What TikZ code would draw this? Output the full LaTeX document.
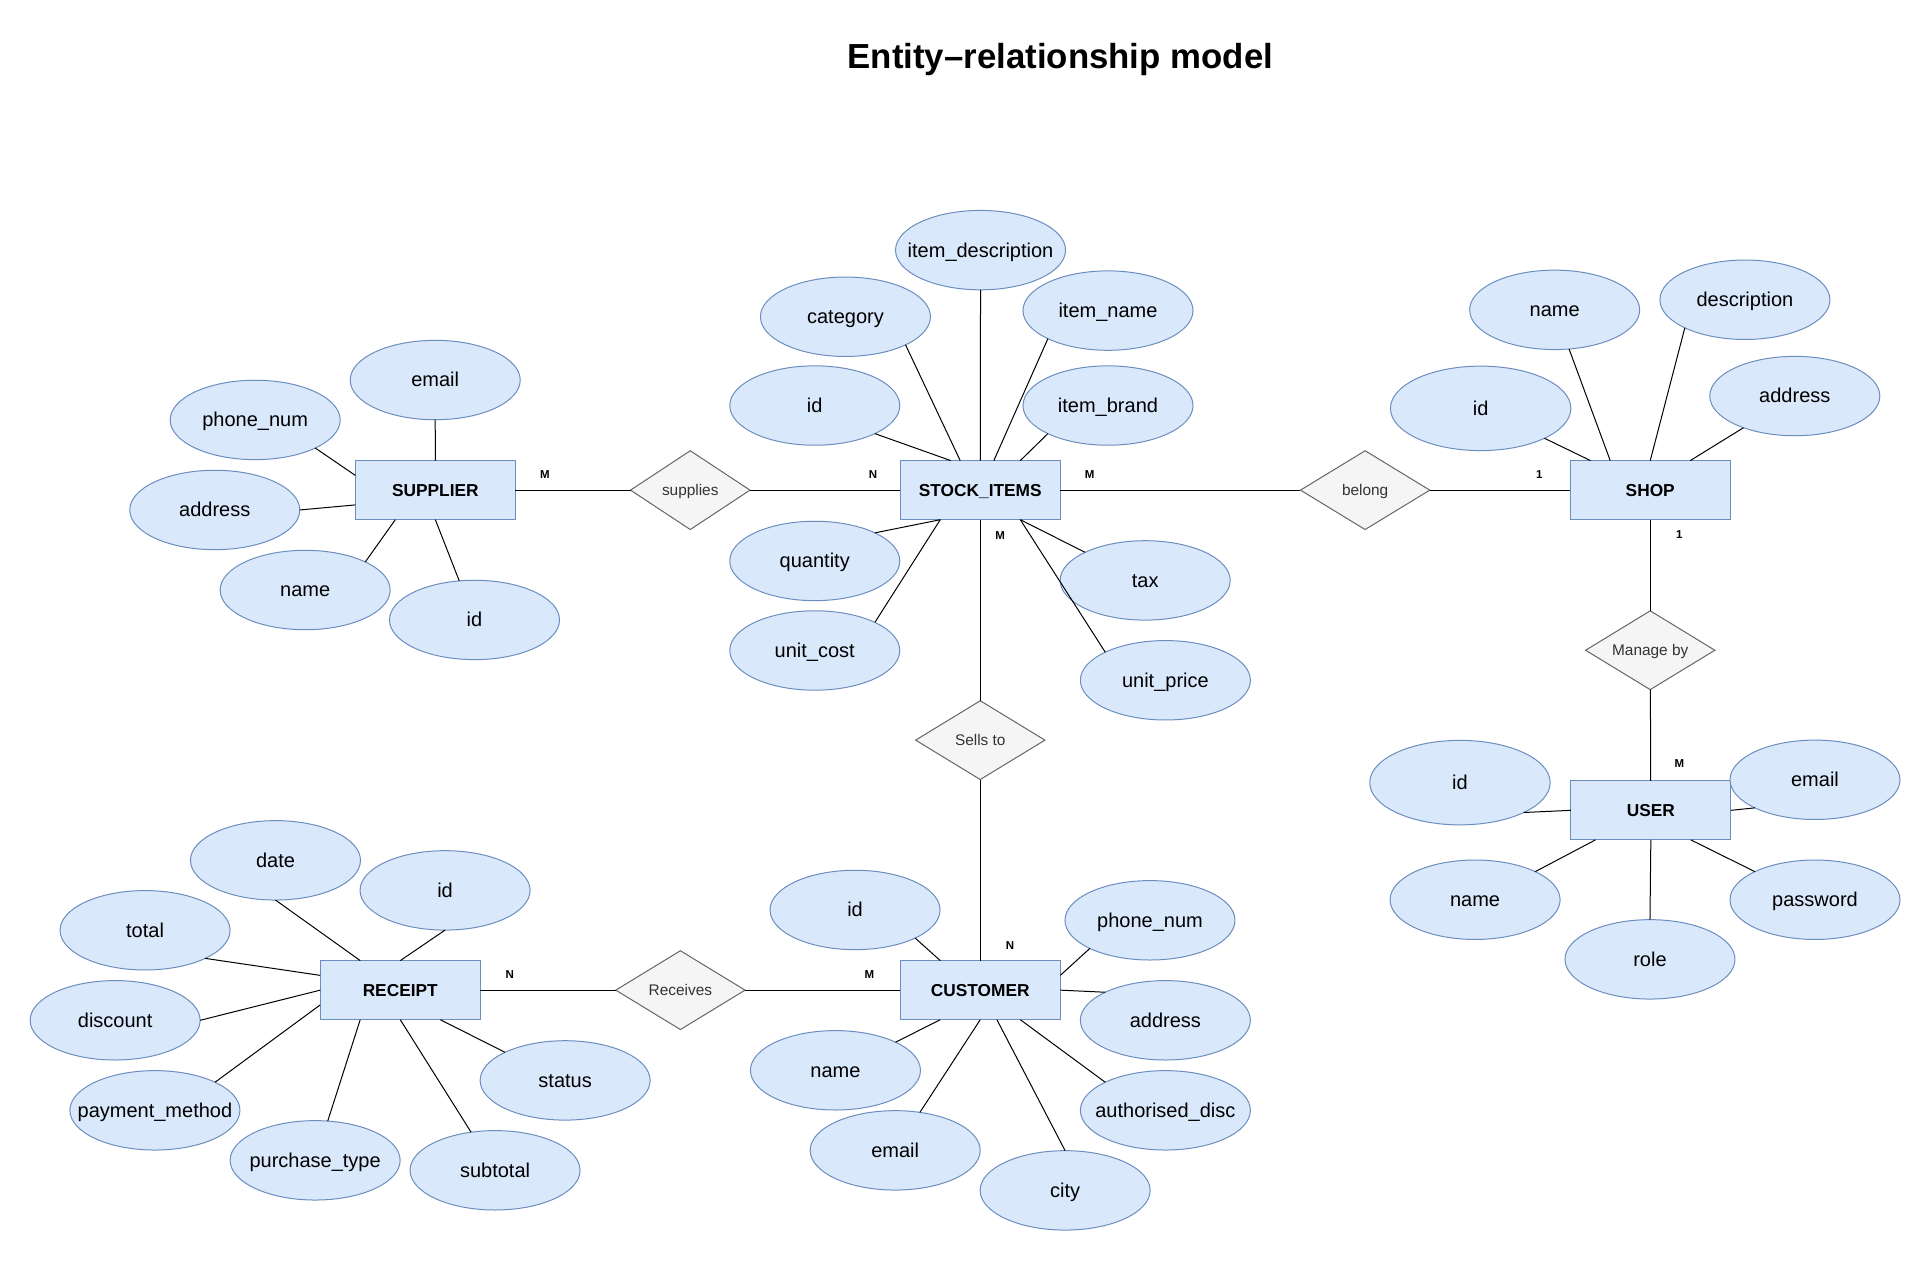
\documentclass[tikz,border=0pt]{standalone}
\usepackage{fontspec}
\setmainfont{Liberation Sans}
\usetikzlibrary{shapes.geometric,calc}
\definecolor{attrfill}{HTML}{DAE8FC}
\definecolor{attrline}{HTML}{6C8EBF}
\definecolor{relfill}{HTML}{F5F5F5}
\definecolor{relline}{HTML}{666666}
\definecolor{reltext}{HTML}{333333}
\newcommand{\zb}[1]{\makebox[0pt]{#1}}
\begin{document}
\begin{tikzpicture}[x=1.2315pt,y=-1.2315pt,
 attr/.style={ellipse,draw=attrline,fill=attrfill,line width=1pt,minimum width=170pt,minimum height=79.4pt,inner sep=0pt,outer sep=0pt,font=\fontsize{20}{24}\selectfont,text height=18.1pt,text depth=4.24pt},
 bigattr/.style={attr,minimum width=180.4pt,minimum height=84.5pt},
 entity/.style={rectangle,draw=attrline,fill=attrfill,line width=1pt,minimum width=160pt,minimum height=59pt,inner sep=0pt,outer sep=0pt,font=\fontsize{17.3}{20}\selectfont\bfseries,text height=15.7pt,text depth=3.67pt},
 rel/.style={diamond,draw=relline,fill=relfill,line width=1pt,minimum width=129.3pt,minimum height=78.8pt,inner sep=0pt,outer sep=0pt,text=reltext,font=\fontsize{15.4}{18}\selectfont,text height=13.9pt,text depth=3.26pt},
 card/.style={inner sep=0pt,font=\fontsize{11.5}{13}\selectfont\bfseries},
 link/.style={line width=1pt,black}]
\fill[white] (0,0) rectangle (1568,1024);
\useasboundingbox (0,0) rectangle (1568,1024);

\node[font=\fontsize{34.8}{40}\selectfont\bfseries, anchor=base] (title) at (861,55.5) {Entity–relationship model};

% entities
\node[entity] (sup) at (353.5,398) {SUPPLIER};
\node[entity] (stock) at (796,398) {STOCK\_ITEMS};
\node[entity] (shop) at (1340,398) {SHOP};
\node[entity] (user) at (1340.5,658) {USER};
\node[entity] (rec) at (325,804) {RECEIPT};
\node[entity] (cust) at (796,804) {CUSTOMER};

% relationships
\node[rel,minimum width=119.5pt] (supplies) at (560.5,398) {\zb{supplies}};
\node[rel] (belong) at (1108.5,398) {\zb{belong}};
\node[rel] (sells) at (796,601) {\zb{Sells to}};
\node[rel] (manage) at (1340,528) {\zb{Manage by}};
\node[rel] (receives) at (552.5,804) {\zb{Receives}};

% supplier attributes
\node[attr] (s_email) at (353.4,308.6) {\zb{email}};
\node[attr] (s_phone) at (207.2,341) {\zb{phone\_num}};
\node[attr] (s_addr) at (174.4,414.1) {\zb{address}};
\node[attr] (s_name) at (247.8,479.1) {\zb{name}};
\node[attr] (s_id) at (385.3,503.4) {\zb{id}};

% stock item attributes
\node[attr] (i_desc) at (796.2,203.1) {\zb{item\_description}};
\node[attr] (i_cat) at (686.5,257.2) {\zb{category}};
\node[attr] (i_name) at (899.7,252.2) {\zb{item\_name}};
\node[attr] (i_id) at (661.6,329.3) {\zb{id}};
\node[attr] (i_brand) at (899.7,329.3) {\zb{item\_brand}};
\node[attr] (i_qty) at (661.6,455.5) {\zb{quantity}};
\node[attr] (i_cost) at (661.6,528.2) {\zb{unit\_cost}};
\node[attr] (i_tax) at (929.9,471.3) {\zb{tax}};
\node[attr] (i_price) at (946.3,552.4) {\zb{unit\_price}};

% shop attributes
\node[bigattr] (h_id) at (1202.3,331.6) {\zb{id}};
\node[attr] (h_name) at (1262.4,251.6) {\zb{name}};
\node[attr] (h_desc) at (1416.9,243.4) {\zb{description}};
\node[attr] (h_addr) at (1457.4,321.6) {\zb{address}};

% user attributes
\node[bigattr] (u_id) at (1185.5,635.5) {\zb{id}};
\node[attr] (u_email) at (1473.8,633.2) {\zb{email}};
\node[attr] (u_name) at (1197.8,730.6) {\zb{name}};
\node[attr] (u_role) at (1339.8,779) {\zb{role}};
\node[attr] (u_pass) at (1473.8,730.6) {\zb{password}};

% receipt attributes
\node[attr] (r_date) at (223.7,698.6) {\zb{date}};
\node[attr] (r_id) at (361.4,723) {\zb{id}};
\node[attr] (r_total) at (117.8,755.4) {\zb{total}};
\node[attr] (r_disc) at (93.5,828.5) {\zb{discount}};
\node[attr] (r_pay) at (125.8,901.6) {\zb{payment\_method}};
\node[attr] (r_ptype) at (255.9,942.2) {\zb{purchase\_type}};
\node[attr] (r_sub) at (402,950.3) {\zb{subtotal}};
\node[attr] (r_status) at (458.9,877.3) {\zb{status}};

% customer attributes
\node[attr] (c_id) at (694.3,738.9) {\zb{id}};
\node[attr] (c_phone) at (933.8,747.3) {\zb{phone\_num}};
\node[attr] (c_addr) at (946.3,828.5) {\zb{address}};
\node[attr] (c_name) at (678.4,869.1) {\zb{name}};
\node[attr] (c_email) at (726.9,934.1) {\zb{email}};
\node[attr] (c_city) at (864.9,966.6) {\zb{city}};
\node[attr] (c_auth) at (946.3,901.6) {\zb{authorised\_disc}};

% supplier links
\draw[link] (s_email.south) -- (sup.north);
\draw[link] (s_phone.south east) -- ($(sup)+(-65,-12)$);
\draw[link] (s_addr.east) -- ($(sup)+(-65,12)$);
\draw[link] (s_name.north east) -- ($(sup)+(-32.5,24)$);
\draw[link] (s_id) -- (sup.south);

% stock links
\draw[link] (i_desc.south) -- (stock.north);
\draw[link] (i_cat.south east) -- ($(stock)+(-16.3,-24)$);
\draw[link] (i_name.south west) -- ($(stock)+(11,-24)$);
\draw[link] (i_id.south east) -- ($(stock)+(-24,-24)$);
\draw[link] (i_brand.south west) -- ($(stock)+(32.5,-24)$);
\draw[link] (i_qty.north east) -- ($(stock)+(-32.5,24)$);
\draw[link] (i_cost.north east) -- ($(stock)+(-32.5,24)$);
\draw[link] (i_tax.north west) -- ($(stock)+(32.5,24)$);
\draw[link] (i_price.north west) -- ($(stock)+(32.5,24)$);

% shop links
\draw[link] (h_id.south east) -- ($(shop)+(-48.5,-24)$);
\draw[link] (h_name) -- ($(shop)+(-32.5,-24)$);
\draw[link] (h_desc.south west) -- (shop.north);
\draw[link] (h_addr) -- ($(shop)+(32.5,-24)$);

% user links
\draw[link] (u_id.south east) -- (user.west);
\draw[link] (u_email.south west) -- (user.east);
\draw[link] (u_name.north east) -- ($(user)+(-45,24)$);
\draw[link] (u_role.north) -- (user.south);
\draw[link] (u_pass.north west) -- ($(user)+(32.5,24)$);

% receipt links
\draw[link] (r_date.south) -- ($(rec)+(-32.5,-24)$);
\draw[link] (r_id.south) -- (rec.north);
\draw[link] (r_total.south east) -- ($(rec)+(-65,-12)$);
\draw[link] (r_disc.east) -- (rec.west);
\draw[link] (r_pay.north east) -- ($(rec)+(-65,12)$);
\draw[link] (r_ptype) -- ($(rec)+(-32.5,24)$);
\draw[link] (r_sub) -- (rec.south);
\draw[link] (r_status.north west) -- ($(rec)+(32.5,24)$);

% customer links
\draw[link] (c_id.south east) -- ($(cust)+(-32.5,-24)$);
\draw[link] (c_phone.south west) -- ($(cust)+(65,-12)$);
\draw[link] (c_addr.north west) -- (cust.east);
\draw[link] (c_name.north east) -- ($(cust)+(-32.5,24)$);
\draw[link] (c_email) -- (cust.south);
\draw[link] (c_city.north) -- ($(cust)+(13.5,24)$);
\draw[link] (c_auth.north west) -- ($(cust)+(32.5,24)$);

% relationship links
\draw[link] (sup) -- (supplies);
\draw[link] (supplies) -- (stock);
\draw[link] (stock) -- (belong);
\draw[link] (belong) -- (shop);
\draw[link] (stock) -- (sells);
\draw[link] (sells) -- (cust);
\draw[link] (rec) -- (receives);
\draw[link] (receives) -- (cust);
\draw[link] (shop) -- (manage);
\draw[link] (manage) -- (user);

% cardinalities
\node[card] (k1) at (442.5,385.2) {M};
\node[card] (k2) at (708.9,385.5) {N};
\node[card] (k3) at (884.8,385.5) {M};
\node[card] (k4) at (1250,385.5) {1};
\node[card] (k5) at (1363.6,434) {1};
\node[card] (k6) at (1363.6,620.4) {M};
\node[card] (k7) at (812.1,434.6) {M};
\node[card] (k8) at (820.2,767.4) {N};
\node[card] (k9) at (706,791.7) {M};
\node[card] (k10) at (414,791.2) {N};
\end{tikzpicture}
\end{document}
